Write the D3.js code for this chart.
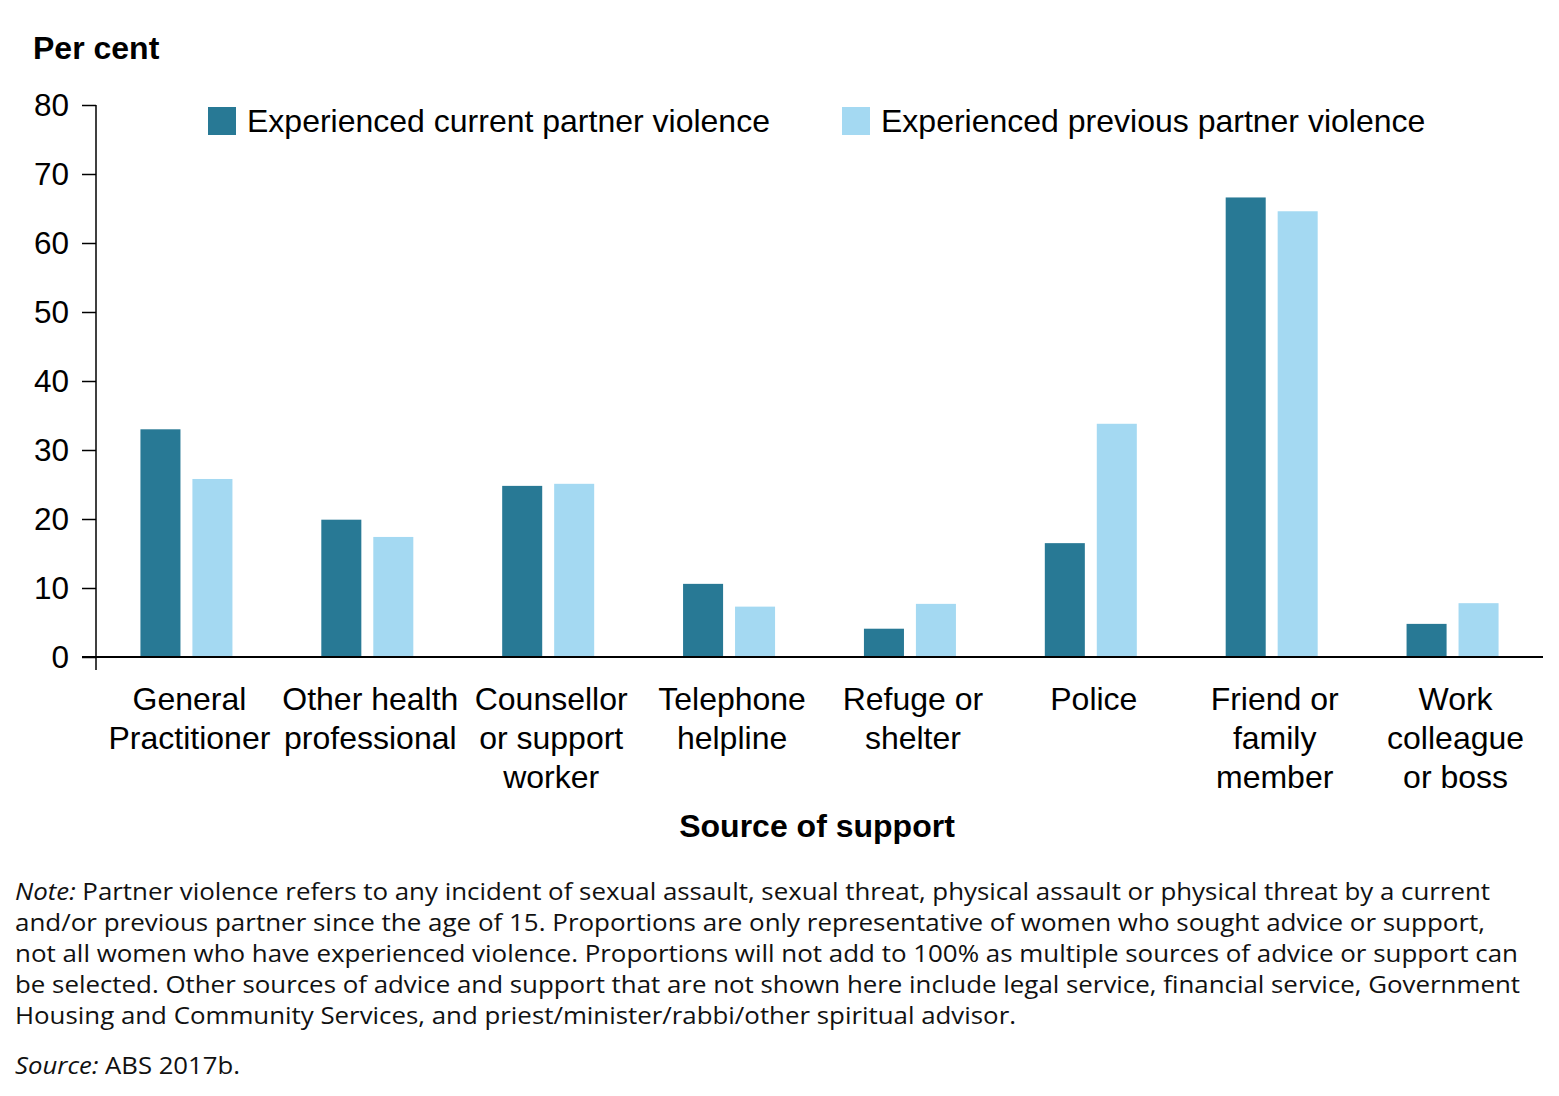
<!DOCTYPE html>
<html>
<head>
<meta charset="utf-8">
<script src="https://cdn.jsdelivr.net/npm/d3@7"></script>
<style>
  html, body { margin: 0; padding: 0; background: #fff; }
  svg { display: block; }
</style>
</head>
<body>
<svg id="chart" width="1559" height="1096"></svg>
<script>
const categories = [
  ["General", "Practitioner"],
  ["Other health", "professional"],
  ["Counsellor", "or support", "worker"],
  ["Telephone", "helpline"],
  ["Refuge or", "shelter"],
  ["Police"],
  ["Friend or", "family", "member"],
  ["Work", "colleague", "or boss"]
];
const seriesNames = ["Experienced current partner violence", "Experienced previous partner violence"];
const currentValues = [33.0, 19.9, 24.8, 10.6, 4.1, 16.5, 66.6, 4.8];
const previousValues = [25.8, 17.4, 25.1, 7.3, 7.7, 33.8, 64.6, 7.8];
const yTicks = [0, 10, 20, 30, 40, 50, 60, 70, 80];
const colors = ["#287995", "#a4d9f2"];
const noteLines = [
  ["Note:", " Partner violence refers to any incident of sexual assault, sexual threat, physical assault or physical threat by a current"],
  ["", "and/or previous partner since the age of 15. Proportions are only representative of women who sought advice or support,"],
  ["", "not all women who have experienced violence. Proportions will not add to 100% as multiple sources of advice or support can"],
  ["", "be selected. Other sources of advice and support that are not shown here include legal service, financial service, Government"],
  ["", "Housing and Community Services, and priest/minister/rabbi/other spiritual advisor."]
];
const noteWidths = [1475, 1470, 1503, 1505, 1001];
const sourceLine = ["Source:", " ABS 2017b."];

const svg = d3.select("#chart");
const font = "'Liberation Sans', Arial, sans-serif";
const plotLeft = 96, plotRight = 1543, plotTop = 105, plotBottom = 657;

const x = d3.scaleBand().domain(d3.range(categories.length)).range([plotLeft, plotRight]).paddingInner(0).paddingOuter(0);
const xs = d3.scaleBand().domain([0, 1]).range([0, 92]).paddingInner(0.23);
const y = d3.scaleLinear().domain([0, 80]).range([plotBottom, plotTop]);

const data = categories.map((c, i) => [currentValues[i], previousValues[i]]);

// bars
const groups = svg.append("g").selectAll("g").data(data).join("g")
  .attr("transform", (d, i) => `translate(${x(i) + x.bandwidth() / 2 - 46},0)`);
groups.selectAll("rect").data(d => d.map((v, k) => ({ v, k }))).join("rect")
  .attr("x", d => xs(d.k))
  .attr("width", xs.bandwidth())
  .attr("y", d => y(d.v))
  .attr("height", d => y(0) - y(d.v))
  .attr("fill", d => colors[d.k]);

// y axis
const yAxis = d3.axisLeft(y).tickValues(yTicks).tickSize(14).tickPadding(13);
const yg = svg.append("g").attr("transform", `translate(${plotLeft},0)`).call(yAxis);
yg.select(".domain").remove();
yg.selectAll(".tick line").attr("stroke", "#000").attr("stroke-width", 1.5);
yg.selectAll(".tick text").attr("font-family", font).attr("font-size", 31.5).attr("fill", "#000");
svg.append("line").attr("x1", plotLeft).attr("x2", plotLeft).attr("y1", y(80)).attr("y2", plotBottom + 13)
  .attr("stroke", "#000").attr("stroke-width", 1.5);
// x axis line
svg.append("line").attr("x1", plotLeft - 14).attr("x2", plotRight).attr("y1", plotBottom).attr("y2", plotBottom)
  .attr("stroke", "#000").attr("stroke-width", 2);

// category labels
const xl = svg.append("g");
categories.forEach((lines, i) => {
  const t = xl.append("text").attr("font-family", font).attr("font-size", 32).attr("fill", "#000")
    .attr("text-anchor", "middle");
  lines.forEach((ln, j) => {
    t.append("tspan").attr("x", x(i) + x.bandwidth() / 2 + 3).attr("y", 710 + j * 39).text(ln);
  });
});

// titles
svg.append("text").attr("x", 33).attr("y", 59).attr("font-family", font).attr("font-weight", "bold")
  .attr("font-size", 32).text("Per cent");
svg.append("text").attr("x", 817).attr("y", 837).attr("text-anchor", "middle").attr("font-family", font)
  .attr("font-weight", "bold").attr("font-size", 32).text("Source of support");

// legend
const legendX = [208, 842];
seriesNames.forEach((n, k) => {
  svg.append("rect").attr("x", legendX[k]).attr("y", 107).attr("width", 28).attr("height", 28).attr("fill", colors[k]);
  svg.append("text").attr("x", legendX[k] + 39).attr("y", 132).attr("font-family", font)
    .attr("font-size", 32).text(n);
});

// note
const noteFont = "'Open Sans', sans-serif";
noteLines.forEach((ln, j) => {
  const t = svg.append("text").attr("x", 15).attr("y", 900 + j * 31).attr("font-family", noteFont)
    .attr("font-size", 24.5).attr("fill", "#111")
    .attr("textLength", noteWidths[j]).attr("lengthAdjust", "spacingAndGlyphs");
  if (ln[0]) t.append("tspan").attr("font-style", "italic").text(ln[0]);
  t.append("tspan").text(ln[1]);
});
const st = svg.append("text").attr("x", 15).attr("y", 1074).attr("font-family", noteFont)
  .attr("font-size", 24.5).attr("fill", "#111").attr("textLength", 225).attr("lengthAdjust", "spacingAndGlyphs");
st.append("tspan").attr("font-style", "italic").text(sourceLine[0]);
st.append("tspan").text(sourceLine[1]);
</script>
</body>
</html>
